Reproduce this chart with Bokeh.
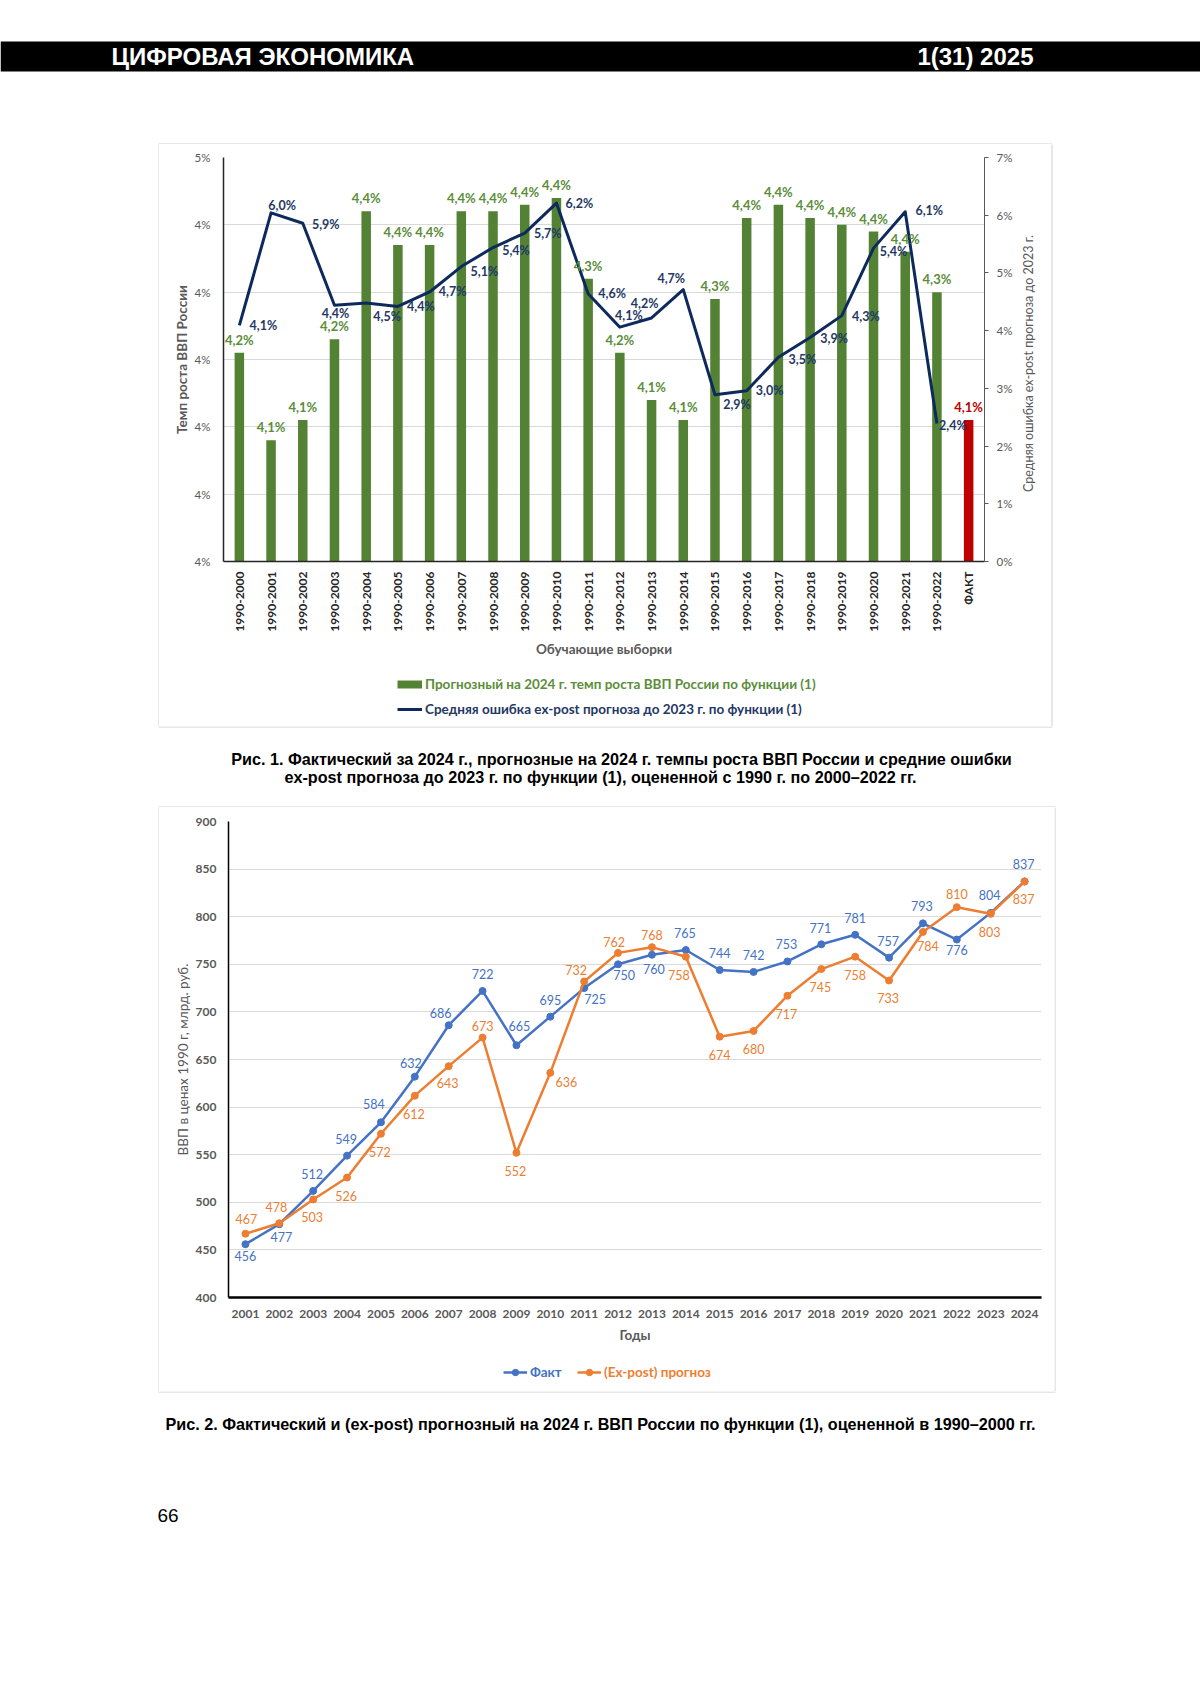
import math
from bokeh.plotting import figure
from bokeh.models import (ColumnDataSource, FactorRange, Range1d, LinearAxis, FixedTicker,
                          CustomJSTickFormatter, LabelSet, Legend, LegendItem)
from bokeh.layouts import column, row
from bokeh.core.properties import value
from bokeh.embed import file_html
from bokeh.resources import INLINE

# ---------------- data: figure 1 ----------------
samples = ["1990-2000", "1990-2001", "1990-2002", "1990-2003", "1990-2004", "1990-2005",
           "1990-2006", "1990-2007", "1990-2008", "1990-2009", "1990-2010", "1990-2011",
           "1990-2012", "1990-2013", "1990-2014", "1990-2015", "1990-2016", "1990-2017",
           "1990-2018", "1990-2019", "1990-2020", "1990-2021", "1990-2022"]
fact_category = "ФАКТ"
forecast_growth = [4.21, 4.08, 4.11, 4.23, 4.42, 4.37, 4.37, 4.42, 4.42, 4.43, 4.44, 4.32,
                   4.21, 4.14, 4.11, 4.29, 4.41, 4.43, 4.41, 4.40, 4.39, 4.36, 4.30]
fact_growth = [4.11]
expost_error = [4.09, 6.04, 5.86, 4.44, 4.48, 4.42, 4.67, 5.11, 5.44, 5.69, 6.21, 4.64,
                4.06, 4.22, 4.71, 2.89, 2.96, 3.54, 3.88, 4.26, 5.43, 6.06, 2.39]
growth_ticks = [3.9, 4.0, 4.1, 4.2, 4.3, 4.4, 4.5]
error_ticks = [0, 1, 2, 3, 4, 5, 6, 7]

# ---------------- data: figure 2 ----------------
years = ["2001", "2002", "2003", "2004", "2005", "2006", "2007", "2008", "2009", "2010",
         "2011", "2012", "2013", "2014", "2015", "2016", "2017", "2018", "2019", "2020",
         "2021", "2022", "2023", "2024"]
gdp_fact = [456, 477, 512, 549, 584, 632, 686, 722, 665, 695, 725, 750,
            760, 765, 744, 742, 753, 771, 781, 757, 793, 776, 804, 837]
gdp_forecast = [467, 478, 503, 526, 572, 612, 643, 673, 552, 636, 732, 762,
                768, 758, 674, 680, 717, 745, 758, 733, 784, 810, 803, 837]
gdp_ticks = [400, 450, 500, 550, 600, 650, 700, 750, 800, 850, 900]

# ---------------- label placement (pixels: dx right, dy down) ----------------
err_label_dx = [24, 11, 23, 1, 21, 23, 23, 23, 23, 23, 23, 24, 9, -7, -12, 22, 23, 24, 24, 24, 20, 24, 16]
err_label_dy = [0, -7, 1, 8, 14, 0, 0, 5, 3, 0, 0, 0, -12, -14, -11, 10, 0, 2, 1, 1, 3, -1, 2]
fact_dx = [0, 2, -1, -1, -7, -4, -8, 0, 3, 0, 11, 6, 2, -1, 0, 0, -1, -1, 0, -1, -1, 0, -1, -1]
fact_dy = [12, 13, -17, -17, -18, -14, -12, -17, -19, -17, 11, 11, 14, -17, -17, -17, -17, -16, -17, -17, -17, 10, -18, -17]
fc_dx = [1, -3, -1, -1, -1, -1, -1, 0, -1, 16, -8, -4, 0, -7, 0, 0, -1, -1, 0, -1, 5, 0, -1, -1]
fc_dy = [-15, -16, 18, 18, 18, 18, 17, -12, 18, 9, -11, -11, -12, 18, 18, 18, 18, 18, 18, 18, 14, -13, 18, 18]

FONT = "Lato"
PFONT = "Liberation Sans"
GREEN = "#548235"
GREEN_TXT = "#5B8D3A"
NAVY = "#0E2A5C"
NAVY_TXT = "#1F3864"
RED = "#C00000"
BLUE = "#4472C4"
ORANGE = "#ED7D31"
GRID = "#D9D9D9"
BOX = "#D0D0D0"
GREY = "#595959"

PAGE_W = 1200


def pct(v):
    return f"{v:.1f}".replace(".", ",") + "%"


def page_fig(w, h, x0, y0):
    f = figure(width=w, height=h, x_range=Range1d(x0, x0 + w), y_range=Range1d(y0 + h, y0),
               x_axis_type=None, y_axis_type=None, min_border=0, output_backend="svg",
               toolbar_location=None, title=None)
    f.grid.visible = False
    f.outline_line_color = None
    return f


def ptext(f, x, y, txt, size, align="center", bold=True, color="black"):
    f.text(x=[x], y=[y], text=[txt], text_font=value(PFONT), text_font_size=size,
           text_font_style="bold" if bold else "normal", text_color=color,
           text_align=align, text_baseline="middle")


def hline(f, y, xa, xb):
    f.segment(x0=[xa], y0=[y], x1=[xb], y1=[y], line_color=BOX, line_width=1)


def vline(f, x, ya, yb):
    f.segment(x0=[x], y0=[ya], x1=[x], y1=[yb], line_color=BOX, line_width=1)


def make_legend(label, rends, col, size, gw, loc):
    return Legend(items=[LegendItem(label=label, renderers=rends)], location=loc,
                  orientation="horizontal", padding=0, margin=0, spacing=0,
                  glyph_width=gw, glyph_height=16, label_height=16, label_standoff=3,
                  border_line_color=None, background_fill_alpha=0, label_text_font=FONT,
                  label_text_font_size=size, label_text_font_style="bold",
                  label_text_color=col)


# ---------------- page geometry (page px) ----------------
Y_C1, Y_L1, Y_C1B = 144, 666, 726        # chart 1: top, legend strip top, bottom
Y_C2, Y_L2, Y_C2B = 807, 1355, 1391      # chart 2: top, legend strip top, bottom
X_C = 159                                # charts left edge
X_T1 = 1015                              # chart 1 figure right edge (title strip starts)
X_C1R, X_C2R = 1051, 1054                # chart boxes right edges
PAGE_H = 1690

# ---------------- header ----------------
header = page_fig(PAGE_W, Y_C1, 0, 0)
header.quad(left=[0], right=[PAGE_W], top=[41], bottom=[71], fill_color="black", line_color=None)
ptext(header, 111, 56, "ЦИФРОВАЯ ЭКОНОМИКА", "24px", align="left", color="white")
ptext(header, 1033, 56, "1(31) 2025", "24px", align="right", color="white")
hline(header, Y_C1 - 0.5, X_C - 1, X_C1R + 1)

# ---------------- figure 1 ----------------
W1, H1 = X_T1 - X_C, Y_L1 - Y_C1
L1, R1, T1, B1 = 64, 30, 13, 105
cats = samples + [fact_category]
p1 = figure(width=W1, height=H1, x_range=FactorRange(factors=cats),
            y_range=Range1d(growth_ticks[0], growth_ticks[-1]),
            output_backend="svg", toolbar_location=None, title=None,
            min_border_left=L1, min_border_right=R1, min_border_top=T1, min_border_bottom=B1)
p1.outline_line_color = None
p1.extra_y_ranges = {"err": Range1d(error_ticks[0], error_ticks[-1])}
p1.xgrid.visible = False
p1.ygrid.ticker = FixedTicker(ticks=growth_ticks)
p1.ygrid.grid_line_color = GRID

src_bars = ColumnDataSource(dict(x=samples, top=forecast_growth,
                                 label=[pct(v) for v in forecast_growth]))
src_fact = ColumnDataSource(dict(x=[fact_category], top=fact_growth,
                                 label=[pct(v) for v in fact_growth]))
p1.vbar(x="x", top="top", bottom=growth_ticks[0], width=0.3, source=src_bars,
        fill_color=GREEN, line_color=None)
p1.vbar(x="x", top="top", bottom=growth_ticks[0], width=0.3, source=src_fact,
        fill_color=RED, line_color=None)
src_err = ColumnDataSource(dict(x=samples, y=expost_error, label=[pct(v) for v in expost_error],
                                dx=err_label_dx, dy=[-d for d in err_label_dy]))
p1.line(x="x", y="y", source=src_err, y_range_name="err", line_color=NAVY,
        line_width=3, line_join="round")

for src, col in ((src_bars, GREEN_TXT), (src_fact, RED)):
    p1.add_layout(LabelSet(x="x", y="top", text="label", source=src, y_offset=13,
                           text_align="center", text_baseline="middle", text_color=col,
                           text_font=value(FONT), text_font_style="bold",
                           text_font_size="13px"))
p1.add_layout(LabelSet(x="x", y="y", text="label", source=src_err, y_range_name="err",
                       x_offset="dx", y_offset="dy", text_align="center",
                       text_baseline="middle", text_color=NAVY_TXT, text_font=value(FONT),
                       text_font_style="bold", text_font_size="12.5px"))

ya = p1.left[0]
ya.ticker = FixedTicker(ticks=growth_ticks)
ya.formatter = CustomJSTickFormatter(code="return Math.round(tick) + '%';")
ya.major_tick_out = 0
ya.major_tick_in = 0
ya.minor_tick_out = 0
ya.minor_tick_in = 0
ya.axis_line_color = "#262626"
ya.axis_line_width = 1.5
ya.major_label_text_font = FONT
ya.major_label_text_font_size = "11.5px"
ya.major_label_text_color = GREY
ya.major_label_standoff = 13
ya.axis_label = "Темп роста ВВП России"
ya.axis_label_text_font = FONT
ya.axis_label_text_font_size = "13.5px"
ya.axis_label_text_font_style = "bold"
ya.axis_label_text_color = GREY
ya.axis_label_standoff = 2

ra = LinearAxis(y_range_name="err", ticker=FixedTicker(ticks=error_ticks),
                formatter=CustomJSTickFormatter(code="return tick + '%';"))
ra.major_tick_out = 4
ra.major_tick_in = 0
ra.minor_tick_out = 0
ra.minor_tick_in = 0
ra.axis_line_color = GREY
ra.major_tick_line_color = GREY
ra.major_label_text_font = FONT
ra.major_label_text_font_size = "11.5px"
ra.major_label_text_color = GREY
ra.major_label_standoff = 8
p1.add_layout(ra, "right")

xa = p1.below[0]
xa.major_label_orientation = math.pi / 2
xa.major_tick_out = 0
xa.major_tick_in = 0
xa.axis_line_color = "#262626"
xa.axis_line_width = 1.5
xa.major_label_text_font = FONT
xa.major_label_text_font_size = "12px"
xa.major_label_text_font_style = "bold"
xa.major_label_text_color = "#262626"
xa.major_label_standoff = 10
xa.axis_label = "Обучающие выборки"
xa.axis_label_text_font = FONT
xa.axis_label_text_font_size = "13.5px"
xa.axis_label_text_font_style = "bold"
xa.axis_label_text_color = GREY
xa.axis_label_standoff = 6

# legend strip of figure 1 (its frame is aligned with the chart frame)
F1L = X_C + L1
lf1 = page_fig(W1, Y_C1B - Y_L1, X_C, Y_L1)
sw_bar = lf1.line(x=[X_C - 50], y=[Y_L1], line_color=GREEN, line_width=8, line_cap="butt")
sw_err = lf1.line(x=[X_C - 50], y=[Y_L1], line_color=NAVY, line_width=3, line_cap="butt")
lf1.add_layout(make_legend("Прогнозный на 2024 г. темп роста ВВП России по функции (1)",
                           [sw_bar], GREEN_TXT, "13.5px", 25, (397 - F1L, Y_C1B - 692)))
lf1.add_layout(make_legend("Средняя ошибка ex-post прогноза до 2023 г. по функции (1)",
                           [sw_err], NAVY_TXT, "13.5px", 25, (397 - F1L, Y_C1B - 717)))

# ---------------- caption 1 ----------------
cap1 = page_fig(PAGE_W, Y_C2 - Y_C1B, 0, Y_C1B)
hline(cap1, Y_C1B + 0.5, X_C - 1, X_C1R + 1)
hline(cap1, Y_C2 - 0.5, X_C - 1, X_C2R + 1)
ptext(cap1, 621, 758.5, "Рис. 1. Фактический за 2024 г., прогнозные на 2024 г. темпы роста ВВП России и средние ошибки", "16.2px")
ptext(cap1, 600, 776.5, "ex-post прогноза до 2023 г. по функции (1), оцененной с 1990 г. по 2000–2022 гг.", "16.2px")

# ---------------- figure 2 ----------------
W2, H2 = X_C2R - X_C, Y_L2 - Y_C2
L2, R2, T2, B2 = 69, 13, 14, 58
p2 = figure(width=W2, height=H2, x_range=FactorRange(factors=years),
            y_range=Range1d(gdp_ticks[0], gdp_ticks[-1]),
            output_backend="svg", toolbar_location=None, title=None,
            min_border_left=L2, min_border_right=R2, min_border_top=T2, min_border_bottom=B2)
p2.outline_line_color = None
p2.xgrid.visible = False
p2.ygrid.ticker = FixedTicker(ticks=gdp_ticks)
p2.ygrid.grid_line_color = GRID

src_f = ColumnDataSource(dict(x=years, y=gdp_fact, label=[str(v) for v in gdp_fact],
                              dx=fact_dx, dy=[-d for d in fact_dy]))
src_p = ColumnDataSource(dict(x=years, y=gdp_forecast, label=[str(v) for v in gdp_forecast],
                              dx=fc_dx, dy=[-d for d in fc_dy]))
p2.line(x="x", y="y", source=src_f, line_color=BLUE, line_width=2.5)
p2.scatter(x="x", y="y", source=src_f, size=7, fill_color=BLUE, line_color=BLUE)
p2.line(x="x", y="y", source=src_p, line_color=ORANGE, line_width=2.5)
p2.scatter(x="x", y="y", source=src_p, size=7, fill_color=ORANGE, line_color=ORANGE)
for src, col in ((src_f, BLUE), (src_p, ORANGE)):
    p2.add_layout(LabelSet(x="x", y="y", text="label", source=src, x_offset="dx", y_offset="dy",
                           text_align="center", text_baseline="middle", text_color=col,
                           text_font=value(FONT), text_font_size="12.5px"))

ya2 = p2.left[0]
ya2.ticker = FixedTicker(ticks=gdp_ticks)
ya2.major_tick_out = 0
ya2.major_tick_in = 0
ya2.minor_tick_out = 0
ya2.minor_tick_in = 0
ya2.axis_line_color = "black"
ya2.axis_line_width = 1.5
ya2.major_label_text_font = FONT
ya2.major_label_text_font_size = "12px"
ya2.major_label_text_font_style = "bold"
ya2.major_label_text_color = GREY
ya2.major_label_standoff = 12
ya2.axis_label = "ВВП в ценах 1990 г, млрд. руб."
ya2.axis_label_text_font = FONT
ya2.axis_label_text_font_size = "13.5px"
ya2.axis_label_text_font_style = "normal"
ya2.axis_label_text_color = GREY
ya2.axis_label_standoff = 2

xa2 = p2.below[0]
xa2.major_tick_out = 0
xa2.major_tick_in = 0
xa2.axis_line_color = "black"
xa2.axis_line_width = 2.5
xa2.major_label_text_font = FONT
xa2.major_label_text_font_size = "12px"
xa2.major_label_text_font_style = "bold"
xa2.major_label_text_color = GREY
xa2.major_label_standoff = 12
xa2.axis_label = "Годы"
xa2.axis_label_text_font = FONT
xa2.axis_label_text_font_size = "13.5px"
xa2.axis_label_text_font_style = "bold"
xa2.axis_label_text_color = GREY
xa2.axis_label_standoff = 6

# legend strip of figure 2 (its frame is aligned with the chart frame)
F2L = X_C + L2
lf2 = page_fig(W2, Y_C2B - Y_L2, X_C, Y_L2)
sw_fl = lf2.line(x=[X_C - 50], y=[Y_L2], line_color=BLUE, line_width=2.5)
sw_fm = lf2.scatter(x=[X_C - 50], y=[Y_L2], size=7, fill_color=BLUE, line_color=BLUE)
sw_pl = lf2.line(x=[X_C - 50], y=[Y_L2], line_color=ORANGE, line_width=2.5)
sw_pm = lf2.scatter(x=[X_C - 50], y=[Y_L2], size=7, fill_color=ORANGE, line_color=ORANGE)
lf2.add_layout(make_legend("Факт", [sw_fl, sw_fm], BLUE, "13.5px", 24, (503 - F2L, Y_C2B - 1380)))
lf2.add_layout(make_legend("(Ex-post) прогноз", [sw_pl, sw_pm], ORANGE, "13.5px", 24,
                           (577 - F2L, Y_C2B - 1380)))

# ---------------- border strips around the charts ----------------
HB1, HB2 = Y_C1B - Y_C1, Y_C2B - Y_C2
left1 = page_fig(X_C, HB1, 0, Y_C1)
vline(left1, X_C - 0.5, Y_C1 - 1, Y_C1B + 1)
right1 = page_fig(PAGE_W - X_T1, HB1, X_T1, Y_C1)
vline(right1, X_C1R + 0.5, Y_C1 - 1, Y_C1B + 1)
right1.text(x=[1027.5], y=[363], text=["Средняя ошибка ex-post прогноза до 2023 г."],
            angle=math.pi / 2, text_font=value(FONT), text_font_size="12.5px",
            text_color=GREY, text_align="center", text_baseline="middle")
left2 = page_fig(X_C, HB2, 0, Y_C2)
vline(left2, X_C - 0.5, Y_C2 - 1, Y_C2B + 1)
right2 = page_fig(PAGE_W - X_C2R, HB2, X_C2R, Y_C2)
vline(right2, X_C2R + 0.5, Y_C2 - 1, Y_C2B + 1)

# ---------------- caption 2 / footer ----------------
foot = page_fig(PAGE_W, PAGE_H - Y_C2B, 0, Y_C2B)
hline(foot, Y_C2B + 0.5, X_C - 1, X_C2R + 1)
ptext(foot, 600, 1423, "Рис. 2. Фактический и (ex-post) прогнозный на 2024 г. ВВП России по функции (1), оцененной в 1990–2000 гг.", "16.2px")
ptext(foot, 157, 1515, "66", "19px", align="left", bold=False)

layout = column(
    header,
    row(left1, column(p1, lf1), right1),
    cap1,
    row(left2, column(p2, lf2), right2),
    foot,
)

open("out.html", "w").write(file_html(layout, INLINE))
